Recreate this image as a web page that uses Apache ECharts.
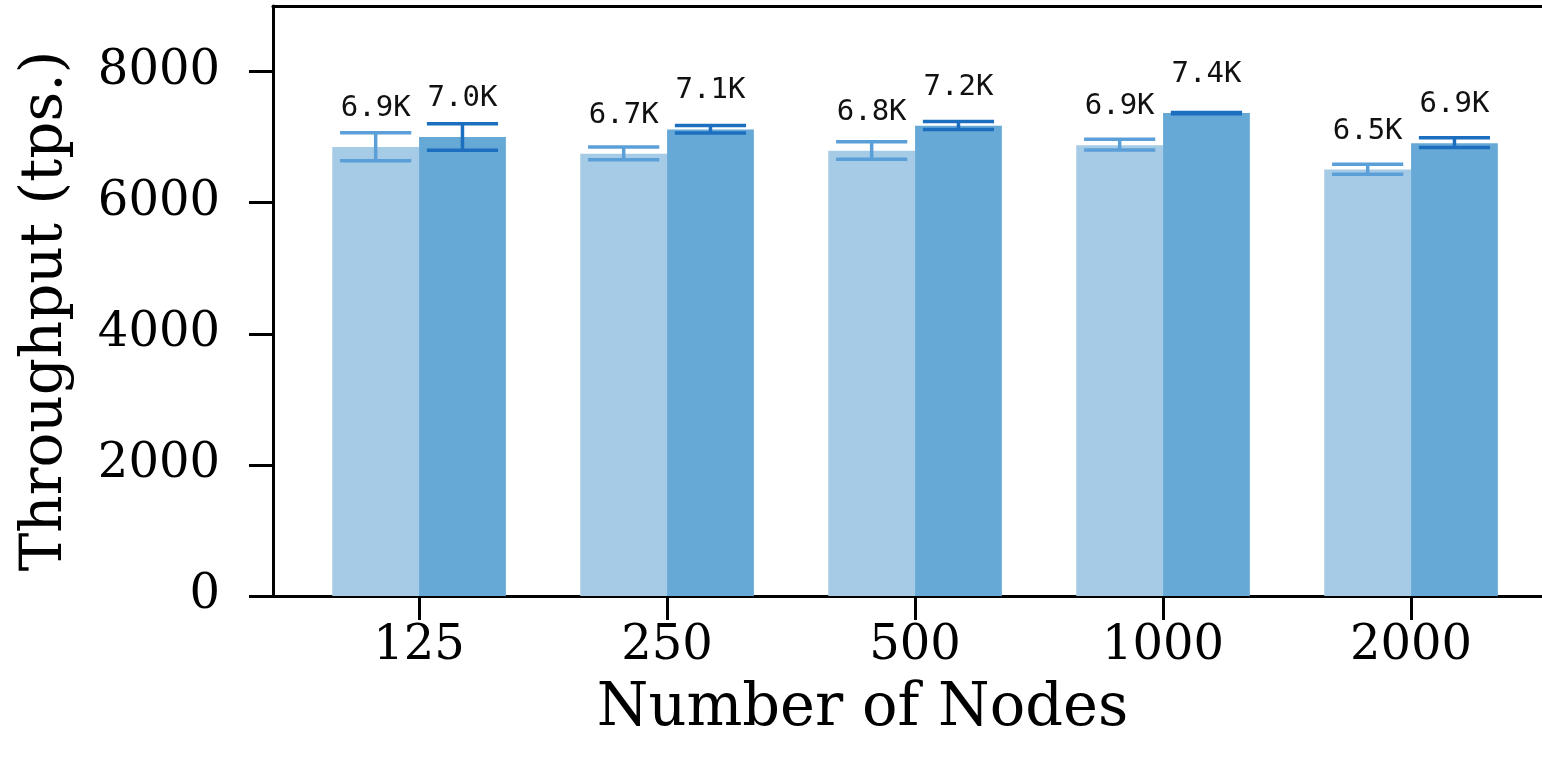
<!DOCTYPE html>
<html>
<head>
<meta charset="utf-8">
<title>Throughput vs Number of Nodes</title>
<script src="https://cdn.jsdelivr.net/npm/echarts@6/dist/echarts.min.js"></script>
<style>
    html, body { margin: 0; padding: 0; background: #fff; }
    #main { width: 1542px; height: 770px; }
</style>
</head>
<body>
<div id="main"></div>
<script>
// values
const nodes = ['125', '250', '500', '1000', '2000']
const baseMean = [6849, 6746, 6791, 6875, 6505]
const baseLow = [6641, 6654, 6662, 6804, 6433]
const baseHigh = [7067, 6849, 6928, 6966, 6586]
const baseText = ['6.9K', '6.7K', '6.8K', '6.9K', '6.5K']
const optMean = [7001, 7118, 7174, 7366, 6905]
const optLow = [6798, 7062, 7118, 7356, 6840]
const optHigh = [7204, 7179, 7240, 7376, 6992]
const optText = ['7.0K', '7.1K', '7.2K', '7.4K', '6.9K']
const yTicks = [0, 2000, 4000, 6000, 8000]
const xTicks = nodes.map((n, i) => i)

const serif = 'DejaVu Serif'
const mono = 'DejaVu Sans Mono'
const axisLine = { show: true, onZero: false, lineStyle: { color: '#000', width: 3 } }

function barSeries(mean, text, color) {
    return {
        type: 'bar',
        data: mean.map((v, i) => [i, v]),
        barWidth: '35%',
        barGap: '0%',
        itemStyle: { color: color },
        label: {
            show: true,
            position: 'top',
            distance: 24,
            fontFamily: mono,
            fontSize: 29,
            color: '#111',
            formatter: p => text[p.dataIndex]
        },
        emphasis: { disabled: true }
    }
}

// error bars drawn on top of the bars, side -1 = left bar, +1 = right bar
function errorSeries(low, high, side, color) {
    return {
        type: 'custom',
        z: 5,
        data: low.map((v, i) => [i, v, high[i]]),
        renderItem: (params, api) => {
            const bw = api.size([1, 0])[0] * 0.35
            const lo = api.coord([api.value(0), api.value(1)])
            const hi = api.coord([api.value(0), api.value(2)])
            const cx = lo[0] + side * bw / 2
            const cap = bw * 0.41
            const style = { stroke: color, lineWidth: 3.5 }
            return {
                type: 'group',
                children: [
                    { type: 'line', shape: { x1: cx, y1: lo[1], x2: cx, y2: hi[1] }, style: style },
                    { type: 'line', shape: { x1: cx - cap, y1: lo[1], x2: cx + cap, y2: lo[1] }, style: style },
                    { type: 'line', shape: { x1: cx - cap, y1: hi[1], x2: cx + cap, y2: hi[1] }, style: style }
                ]
            }
        }
    }
}

const chart = echarts.init(document.getElementById('main'))
chart.setOption({
    animation: false,
    grid: { left: 273, right: 0, top: 6, bottom: 174 },
    xAxis: [
        {
            type: 'value',
            min: -0.589,
            max: 4.528,
            name: 'Number of Nodes',
            nameLocation: 'middle',
            nameGap: 84,
            nameTextStyle: { fontFamily: serif, fontSize: 59, color: '#000', padding: [0, 90, 0, 0] },
            axisLine: axisLine,
            axisTick: { show: true, length: 24, lineStyle: { color: '#000', width: 3 }, customValues: xTicks },
            axisLabel: {
                customValues: xTicks,
                margin: 27,
                fontFamily: serif,
                fontSize: 48,
                color: '#000',
                formatter: v => nodes[Math.round(v)]
            },
            splitLine: { show: false }
        },
        {
            type: 'value',
            position: 'top',
            min: -0.589,
            max: 4.528,
            axisLine: axisLine,
            axisTick: { show: false },
            axisLabel: { show: false },
            splitLine: { show: false }
        }
    ],
    yAxis: {
        type: 'value',
        min: 0,
        max: 9000,
        name: 'Throughput (tps.)',
        nameLocation: 'middle',
        nameRotate: 90,
        nameGap: 198,
        nameTextStyle: { fontFamily: serif, fontSize: 58, color: '#000', padding: [0, 20, 0, 0] },
        axisLine: axisLine,
        axisTick: { show: true, length: 24, lineStyle: { color: '#000', width: 3 }, customValues: yTicks },
        axisLabel: {
            customValues: yTicks,
            margin: 53,
            fontFamily: serif,
            fontSize: 48,
            color: '#000',
            formatter: v => String(v)
        },
        splitLine: { show: false }
    },
    series: [
        barSeries(baseMean, baseText, '#a6cbe6'),
        barSeries(optMean, optText, '#66a9d6'),
        errorSeries(baseLow, baseHigh, -1, '#5a9fd7'),
        errorSeries(optLow, optHigh, 1, '#1c6fbf')
    ]
})
window.addEventListener('resize', () => {
    chart.resize()
})
</script>
</body>
</html>
